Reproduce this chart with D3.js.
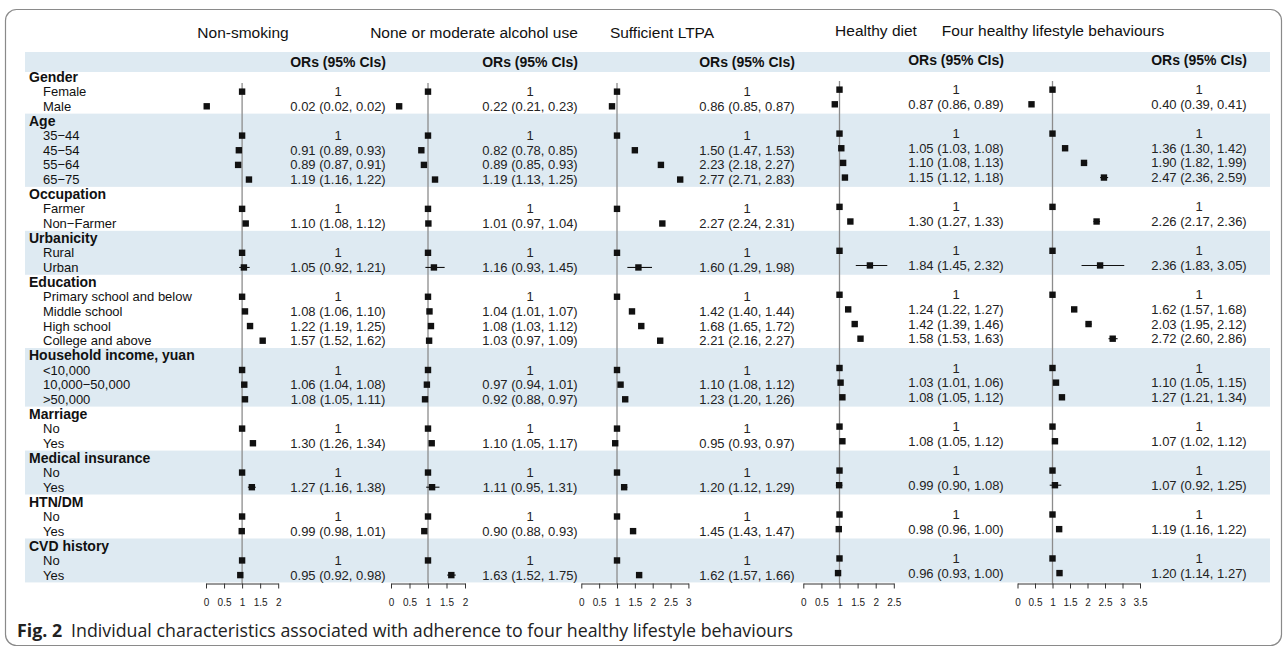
<!DOCTYPE html>
<html>
<head>
<meta charset="utf-8">
<script src="https://cdn.jsdelivr.net/npm/d3@7"></script>
<style>
  body { margin: 0; background: #fff; }
  svg { display: block; font-family: "Liberation Sans", Arial, sans-serif; }
</style>
</head>
<body>
<svg id="fig"></svg>
<script>
const groups = ["Gender", "Age", "Occupation", "Urbanicity", "Education",
  "Household income, yuan", "Marriage", "Medical insurance", "HTN/DM", "CVD history"]

const items = [
  ["Female", "Male"],
  ["35\u221244", "45\u221254", "55\u221264", "65\u221275"],
  ["Farmer", "Non\u2212Farmer"],
  ["Rural", "Urban"],
  ["Primary school and below", "Middle school", "High school", "College and above"],
  ["<10,000", "10,000\u221250,000", ">50,000"],
  ["No", "Yes"],
  ["No", "Yes"],
  ["No", "Yes"],
  ["No", "Yes"],
]

const panelTitles = ["Non-smoking", "None or moderate alcohol use", "Sufficient LTPA",
  "Healthy diet", "Four healthy lifestyle behaviours"]

const tickMax = [2, 2, 3, 2.5, 3.5]

// [OR, lower, upper]; reference level = [1]
const nonSmoking = [
  [1], [0.02, 0.02, 0.02],
  [1], [0.91, 0.89, 0.93], [0.89, 0.87, 0.91], [1.19, 1.16, 1.22],
  [1], [1.10, 1.08, 1.12],
  [1], [1.05, 0.92, 1.21],
  [1], [1.08, 1.06, 1.10], [1.22, 1.19, 1.25], [1.57, 1.52, 1.62],
  [1], [1.06, 1.04, 1.08], [1.08, 1.05, 1.11],
  [1], [1.30, 1.26, 1.34],
  [1], [1.27, 1.16, 1.38],
  [1], [0.99, 0.98, 1.01],
  [1], [0.95, 0.92, 0.98],
]

const alcohol = [
  [1], [0.22, 0.21, 0.23],
  [1], [0.82, 0.78, 0.85], [0.89, 0.85, 0.93], [1.19, 1.13, 1.25],
  [1], [1.01, 0.97, 1.04],
  [1], [1.16, 0.93, 1.45],
  [1], [1.04, 1.01, 1.07], [1.08, 1.03, 1.12], [1.03, 0.97, 1.09],
  [1], [0.97, 0.94, 1.01], [0.92, 0.88, 0.97],
  [1], [1.10, 1.05, 1.17],
  [1], [1.11, 0.95, 1.31],
  [1], [0.90, 0.88, 0.93],
  [1], [1.63, 1.52, 1.75],
]

const ltpa = [
  [1], [0.86, 0.85, 0.87],
  [1], [1.50, 1.47, 1.53], [2.23, 2.18, 2.27], [2.77, 2.71, 2.83],
  [1], [2.27, 2.24, 2.31],
  [1], [1.60, 1.29, 1.98],
  [1], [1.42, 1.40, 1.44], [1.68, 1.65, 1.72], [2.21, 2.16, 2.27],
  [1], [1.10, 1.08, 1.12], [1.23, 1.20, 1.26],
  [1], [0.95, 0.93, 0.97],
  [1], [1.20, 1.12, 1.29],
  [1], [1.45, 1.43, 1.47],
  [1], [1.62, 1.57, 1.66],
]

const diet = [
  [1], [0.87, 0.86, 0.89],
  [1], [1.05, 1.03, 1.08], [1.10, 1.08, 1.13], [1.15, 1.12, 1.18],
  [1], [1.30, 1.27, 1.33],
  [1], [1.84, 1.45, 2.32],
  [1], [1.24, 1.22, 1.27], [1.42, 1.39, 1.46], [1.58, 1.53, 1.63],
  [1], [1.03, 1.01, 1.06], [1.08, 1.05, 1.12],
  [1], [1.08, 1.05, 1.12],
  [1], [0.99, 0.90, 1.08],
  [1], [0.98, 0.96, 1.00],
  [1], [0.96, 0.93, 1.00],
]

const fourBehaviours = [
  [1], [0.40, 0.39, 0.41],
  [1], [1.36, 1.30, 1.42], [1.90, 1.82, 1.99], [2.47, 2.36, 2.59],
  [1], [2.26, 2.17, 2.36],
  [1], [2.36, 1.83, 3.05],
  [1], [1.62, 1.57, 1.68], [2.03, 1.95, 2.12], [2.72, 2.60, 2.86],
  [1], [1.10, 1.05, 1.15], [1.27, 1.21, 1.34],
  [1], [1.07, 1.02, 1.12],
  [1], [1.07, 0.92, 1.25],
  [1], [1.19, 1.16, 1.22],
  [1], [1.20, 1.14, 1.27],
]

const panelData = [nonSmoking, alcohol, ltpa, diet, fourBehaviours]

const width = 1287
const height = 649

// layout of the five panels (axis zero, px per OR unit, text column centre, title centre)
const layout = [
  {x0: 206,   unit: 36.1, text: 338,  title: 243,  dy: 0},
  {x0: 391,   unit: 37,   text: 530,  title: 474,  dy: 0},
  {x0: 581.3, unit: 35.7, text: 747,  title: 662,  dy: 0},
  {x0: 803.3, unit: 36.2, text: 956,  title: 876,  dy: -2},
  {x0: 1017.5, unit: 35,  text: 1199, title: 1053, dy: -2},
]

const band = "#deeaf2"
const fmt = d3.format(".2f")

const svg = d3.select("svg#fig")
  .attr("width", width)
  .attr("height", height)
  .attr("viewBox", `0 0 ${width} ${height}`)

// flatten groups + items into rows
const rows = []
let k = 0
groups.forEach((g, gi) => {
  rows.push({label: g, gi, head: true})
  items[gi].forEach(lab => rows.push({label: lab, gi, head: false, k: k++}))
})

const rowH = 14.65
const rowTop = 77 - rowH / 2
const y = d3.scaleBand()
  .domain(d3.range(rows.length))
  .range([rowTop, rowTop + rows.length * rowH])
const cy = i => y(i) + y.bandwidth() / 2

const bandLeft = 25, bandRight = 1270

// frame
svg.append("rect")
  .attr("x", 5.5).attr("y", 9.5)
  .attr("width", 1276).attr("height", 636)
  .attr("rx", 11)
  .attr("fill", "none")
  .attr("stroke", "#8a8a8a")
  .attr("stroke-width", 1.2)

// header band
svg.append("rect")
  .attr("x", bandLeft).attr("y", 52)
  .attr("width", bandRight - bandLeft).attr("height", 20)
  .attr("fill", band)

// group shading, every other group
groups.forEach((g, gi) => {
  if (gi % 2 == 0) return
  const idx = rows.map((r, i) => r.gi == gi ? i : -1).filter(i => i >= 0)
  svg.append("rect")
    .attr("x", bandLeft)
    .attr("y", y(idx[0]))
    .attr("width", bandRight - bandLeft)
    .attr("height", y(idx[idx.length - 1]) + y.bandwidth() - y(idx[0]))
    .attr("fill", band)
})

// row labels
svg.append("g")
  .selectAll("text")
  .data(rows)
  .join("text")
    .attr("x", r => r.head ? 29 : 43)
    .attr("y", (r, i) => cy(i))
    .attr("dy", "0.35em")
    .attr("font-size", r => r.head ? 14 : 13)
    .attr("font-weight", r => r.head ? "bold" : "normal")
    .attr("fill", "#111")
    .text(r => r.label)

const itemRows = rows.map((r, i) => ({...r, i})).filter(r => !r.head)
const axisY = 583.5

panelData.forEach((data, p) => {
  const L = layout[p]
  const x = d3.scaleLinear()
    .domain([0, tickMax[p]])
    .range([L.x0, L.x0 + tickMax[p] * L.unit])

  const g = svg.append("g")

  // title
  g.append("text")
    .attr("x", L.title).attr("y", 33 + L.dy)
    .attr("dy", "0.35em")
    .attr("text-anchor", "middle")
    .attr("font-size", 15.5)
    .attr("fill", "#111")
    .text(panelTitles[p])

  g.append("text")
    .attr("x", L.text).attr("y", 62 + L.dy)
    .attr("dy", "0.35em")
    .attr("text-anchor", "middle")
    .attr("font-size", 14)
    .attr("font-weight", "bold")
    .attr("fill", "#111")
    .text("ORs (95% CIs)")

  // reference line at OR = 1
  g.append("line")
    .attr("x1", x(1)).attr("x2", x(1))
    .attr("y1", 83 + L.dy).attr("y2", axisY)
    .attr("stroke", "#8c8c8c")
    .attr("stroke-width", 1.3)

  const marks = g.append("g")
    .selectAll("g")
    .data(itemRows)
    .join("g")
      .attr("transform", r => `translate(0,${cy(r.i) + L.dy})`)

  marks.filter(r => data[r.k].length == 3)
    .append("line")
      .attr("x1", r => x(data[r.k][1]))
      .attr("x2", r => x(data[r.k][2]))
      .attr("stroke", "#111")
      .attr("stroke-width", 1.1)

  marks.append("rect")
    .attr("x", r => x(data[r.k][0]) - 3.2)
    .attr("y", -3.2)
    .attr("width", 6.4)
    .attr("height", 6.4)
    .attr("fill", "#111")

  marks.append("text")
    .attr("x", L.text)
    .attr("dy", "0.35em")
    .attr("text-anchor", "middle")
    .attr("font-size", 13)
    .attr("fill", "#222")
    .text(r => {
      const d = data[r.k]
      return d.length == 1 ? "1" : `${fmt(d[0])} (${fmt(d[1])}, ${fmt(d[2])})`
    })

  // axis
  g.append("g")
    .attr("transform", `translate(0,${axisY})`)
    .call(d3.axisBottom(x)
      .tickValues(d3.range(0, tickMax[p] + 0.01, 0.5))
      .tickFormat(d3.format("~g"))
      .tickSize(5)
      .tickSizeOuter(0))
    .call(a => a.selectAll("text")
      .attr("font-size", 10)
      .attr("font-family", "'Liberation Sans', Arial, sans-serif")
      .attr("y", 15)
      .attr("fill", "#222"))
    .call(a => a.selectAll("line, path").attr("stroke", "#333"))
})

// caption
const cap = svg.append("text")
  .attr("x", 17).attr("y", 631)
  .attr("dy", "0.35em")
  .attr("font-family", "'Open Sans', 'Noto Sans', sans-serif")
  .attr("font-size", 17.8)
  .attr("fill", "#222")
cap.append("tspan").attr("font-weight", "bold").text("Fig. 2")
cap.append("tspan").attr("dx", 9).text("Individual characteristics associated with adherence to four healthy lifestyle behaviours")
</script>
</body>
</html>
